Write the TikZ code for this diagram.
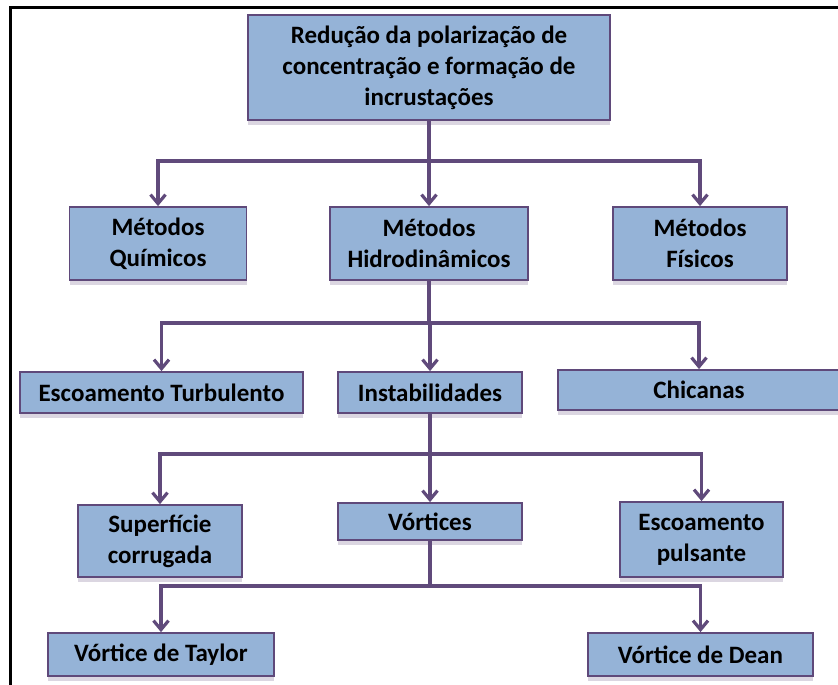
\documentclass[tikz,border=0pt]{standalone}
\usepackage{fontspec}
\setmainfont{Carlito}
\usepackage{tikz}
\usetikzlibrary{arrows.meta,shadows}
\definecolor{boxfill}{HTML}{95B3D7}
\definecolor{boxline}{HTML}{5F497A}
\definecolor{connline}{HTML}{604A7B}
\newcommand{\linew}{3.2pt}
\newcommand{\stemh}{40}
\tikzset{
  box/.style = {draw=boxline, line width=1.8pt, fill=boxfill, align=center,
    inner sep=0pt, font=\fontsize{25}{31}\selectfont\bfseries,
    drop shadow={shadow xshift=0pt, shadow yshift=-5pt, fill=boxline!45, opacity=0.5}},
  conn/.style = {draw=connline, line width=\linew,
    -{Straight Barb[length=9pt,width=15pt,line width=\linew]}}
}

\begin{document}
\begin{tikzpicture}[x=1pt,y=-1pt]
    \useasboundingbox (0,0) rectangle (838,685);
    % frame
    \draw[line width=3pt] (838,8) -- (10,8) -- (10,685);

    \node[box, minimum width=362, minimum height=105] (top) at (429,67.5)
        {Redução da polarização de\\concentração e formação de\\incrustações};

    \node[box, minimum width=177, minimum height=73] (mq) at (158,243.5) {Métodos\\Químicos};
    \node[box, minimum width=198, minimum height=73] (mh) at (429,243.5) {Métodos\\Hidrodinâmicos};
    \node[box, minimum width=174, minimum height=73] (mf) at (700,243.5) {Métodos\\Físicos};

    \node[box, minimum width=283, minimum height=41] (et) at (161.5,392.5) {Escoamento Turbulento};
    \node[box, minimum width=184, minimum height=41] (ins) at (430,392.5) {Instabilidades};
    \node[box, minimum width=282, minimum height=40] (chi) at (699,390) {Chicanas};

    \node[box, minimum width=164, minimum height=72] (sc) at (160,541) {Superfície\\corrugada};
    \node[box, minimum width=184, minimum height=37] (vor) at (430,521.5) {Vórtices};
    \node[box, minimum width=163, minimum height=75] (ep) at (701.5,539.5) {Escoamento\\pulsante};

    \node[box, minimum width=226, minimum height=43] (vt) at (161,654.5) {Vórtice de Taylor};
    \node[box, minimum width=225, minimum height=43] (vd) at (700.5,654.5) {Vórtice de Dean};

    % connectors
    \foreach \n in {mq,mh,mf}
        \draw[conn] (top.south) -- ++(0,\stemh) -| (\n.north);
    \foreach \n in {et,ins,chi}
        \draw[conn] (mh.south) -- ++(0,42) -| (\n.north);
    \foreach \n in {sc,vor,ep}
        \draw[conn] (ins.south) -- ++(0,\stemh) -| (\n.north);
    \foreach \n in {vt,vd}
        \draw[conn] (vor.south) -- ++(0,45) -| (\n.north);
\end{tikzpicture}
\end{document}
